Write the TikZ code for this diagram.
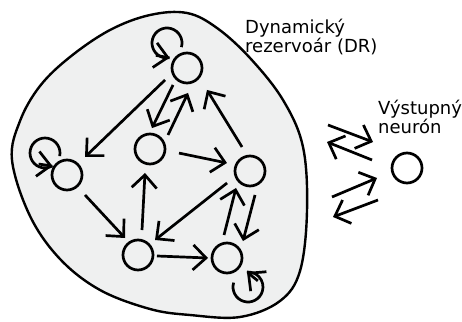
\documentclass[tikz,border=0pt]{standalone}
\usepackage{fontspec}
\setmainfont{DejaVu Sans}
\usetikzlibrary{arrows.meta,calc}
\definecolor{blobfill}{RGB}{239,240,240}
\begin{document}
\begin{tikzpicture}[x=1pt,y=1pt,
  neuron/.style={circle, draw, line width=2.7pt, minimum size=30pt, inner sep=0pt, outer sep=0pt},
  arr/.style={line width=2.7pt, -{Straight Barb[length=13pt,width=25pt]}},
  loopline/.style={line width=2.7pt},
  lbl/.style={font=\fontsize{18}{18}\selectfont, align=left, inner sep=0pt, anchor=base west}]
\useasboundingbox (0,0) rectangle (462,321);
% reservoir
\draw[line width=2.4pt, fill=blobfill] plot[smooth cycle, tension=0.6] coordinates {
 (12,161) (20,200) (40,235) (70,264) (110,291) (150,306) (187,308) (217,293)
 (250,263) (283,221) (303,174) (307,110) (300,50) (280,20) (240,4) (190,6)
 (150,12) (100,31) (60,62) (30,105)};
% neurons
\node[neuron] (T)  at (187,253) {};
\node[neuron] (M)  at (150,172) {};
\node[neuron] (L)  at (67,146)  {};
\node[neuron] (R)  at (250,150) {};
\node[neuron] (B)  at (138,66)  {};
\node[neuron] (BR) at (227,63)  {};
\node[neuron] (O)  at (407,153) {};
% labels
\node[lbl] (dr) at (245,268) {Dynamický\\rezervoár (DR)};
\node[lbl] (out) at (378,187) {Výstupný\\neurón};
% connections
\draw[arr] ($(T)+(208.6:25)$) -- ($(L)+(45:25.5)$);
\draw[arr] ($(T)+(230.5:22)$) -- ($(M)+(84.6:21)$);
\draw[arr] ($(M)+(37.9:22.8)$) -- ($(T)+(272.3:25)$);
\draw[arr] ($(R)+(108.4:25.3)$) -- ($(T)+(312.3:29.7)$);
\draw[arr] ($(M)+(352:29.3)$) -- ($(R)+(160.8:24.4)$);
\draw[arr] ($(L)+(312:26.9)$) -- ($(B)+(127.4:21.4)$);
\draw[arr] ($(B)+(80.9:25.3)$) -- ($(M)+(258.2:24.5)$);
\draw[arr] ($(R)+(207.6:25.9)$) -- ($(B)+(41.4:22.7)$);
\draw[arr] ($(B)+(357:19)$) -- ($(BR)+(180:19)$);
\draw[arr] ($(BR)+(97.4:23.2)$) -- ($(R)+(230.5:22)$);
\draw[arr] ($(R)+(281.8:24.5)$) -- ($(BR)+(46.7:23.3)$);
% self loops (arc + arrow tip)
\coordinate (tq) at ($(T)+(-20,25)+(280:15)$);
\draw[loopline] ($(T)+(-20,25)+(-16:15)$) arc[start angle=-16, end angle=280, radius=15];
\draw[arr] ($(tq)+(170:14)$) -- (tq);
\coordinate (lq) at ($(L)+(-22,22)+(300:15)$);
\draw[loopline] ($(L)+(-22,22)+(-12:15)$) arc[start angle=-12, end angle=300, radius=15];
\draw[arr] ($(lq)+(172:14)$) -- (lq);
\coordinate (bq) at ($(BR)+(21,-29)+(94:15)$);
\draw[loopline] ($(BR)+(21,-29)+(163:15)$) arc[start angle=163, end angle=454, radius=15];
\draw[arr] ($(bq)+(321:14)$) -- (bq);
% reservoir <-> output
\draw[arr] ($(O)+(-79,43)$) -- ($(O)+(-34,26)$);
\draw[arr] ($(O)+(-35,8)$) -- ($(O)+(-80,26)$);
\draw[arr] ($(O)+(-75,-29)$) -- ($(O)+(-30,-10)$);
\draw[arr] ($(O)+(-29,-32)$) -- ($(O)+(-74,-49)$);
\end{tikzpicture}
\end{document}
